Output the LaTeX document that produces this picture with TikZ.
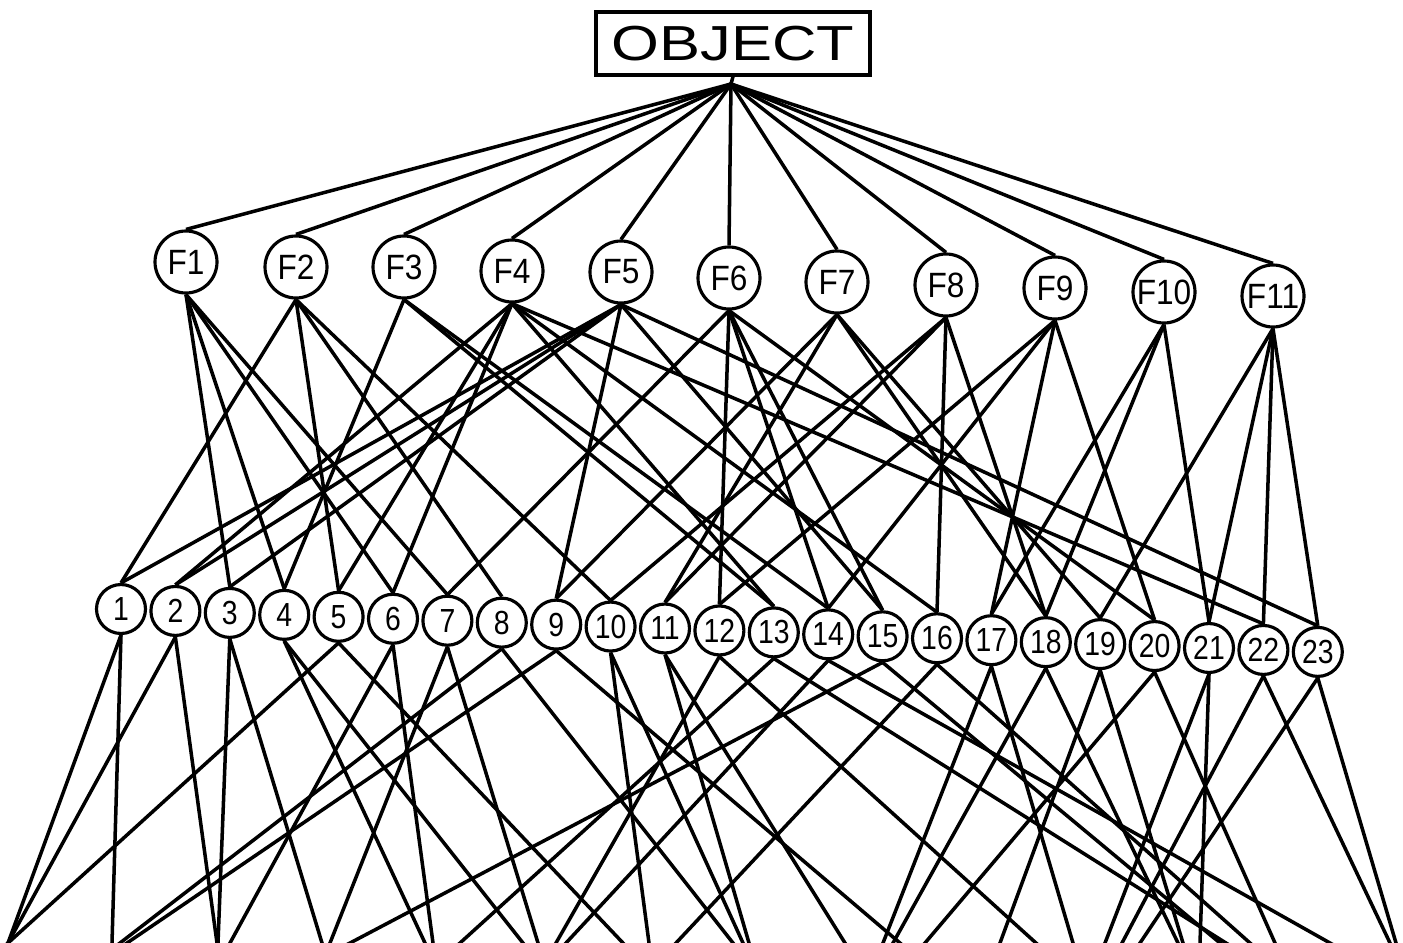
\documentclass[tikz,border=0pt]{standalone}
\usepackage{fontspec}
\setmainfont{Liberation Sans}
\usepackage{graphicx}
\usetikzlibrary{calc}
\begin{document}
\begin{tikzpicture}[x=0.02cm,y=-0.02cm,
  ln/.style={line width=2pt},
  fnode/.style={circle,draw,line width=1.8pt,minimum size=1.24cm,inner sep=0pt,fill=white,font=\fontsize{20}{20}\selectfont},
  nnode/.style={circle,draw,line width=1.8pt,minimum size=0.98cm,inner sep=0pt,fill=white,font=\fontsize{19}{19}\selectfont},
  obox/.style={draw,line width=1.8pt,minimum width=5.48cm,minimum height=1.26cm,inner sep=0pt,fill=white}]
\useasboundingbox (0,0) rectangle (1403,943);
% nodes
\node[obox] (obj) at (733,43.5) {\scalebox{1.25}[1]{\fontsize{28}{28}\selectfont OBJECT}};
\foreach \i/\x/\y in {1/186/262,2/296/267,3/404/267,4/512/271,5/621/272,6/729/278,7/837/282,8/946/285,9/1055/288,10/1164/292,11/1273/296}
  \node[fnode] (F\i) at (\x,\y) {\scalebox{0.9}[1]{F\i}};
\foreach \i in {1,...,23}{
  \pgfmathsetmacro\xx{121+54.4*(\i-1)}
  \pgfmathsetmacro\yy{609+1.95*(\i-1)}
  \node[nnode] (n\i) at (\xx,\yy) {\scalebox{0.85}[1]{\i}};
}
% edges from OBJECT
\coordinate (oc) at (731,84);
\draw[ln] (obj.south) -- (oc);
\foreach \i in {1,...,11}
  \draw[ln] (oc) -- (F\i.north);
% edges F -> numbered nodes
\foreach \f/\lst in {1/{3,4,6,7},2/{1,5,8,10},3/{4,13,14},4/{2,5,6,13,16,22},5/{1,2,3,9,15,23},6/{7,12,14,15,20},7/{9,11,18,19},8/{10,11,16,18},9/{12,14,17,20},10/{17,18,21},11/{19,21,22,23}}
  \foreach \n in \lst
    \draw[ln] (F\f.south) -- (n\n.north);
% edges leaving the bottom edge of the page
\begin{scope}
\clip (0,0) rectangle (1403,943);
\foreach \n/\lst in {1/{8,112},2/{8,217},3/{218,322},4/{425,523},5/{8,623},6/{230,433},7/{330,538},8/{120,733},9/{127,900},10/{649,743},11/{749,845},12/{556,1036},13/{460,1226},14/{566,1330},15/{350,1220},16/{676,1250},17/{883,1073},18/{893,1178},19/{1000,1183},20/{925,1275},21/{1105,1200},22/{1122,1390},23/{1140,1396}}
  \foreach \b in \lst {
    \coordinate (e-\n-\b) at (\b,943);
    \draw[ln] (n\n.south) -- ($(n\n.south)!1.06!(e-\n-\b)$);
  }
\end{scope}
\end{tikzpicture}
\end{document}
